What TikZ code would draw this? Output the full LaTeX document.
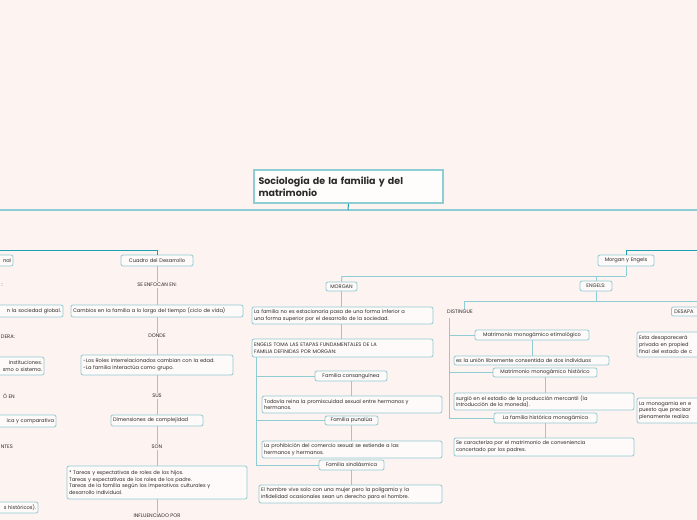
\documentclass[tikz,border=0pt]{standalone}
\usepackage{fontspec}
\setmainfont{Poppins}
\usetikzlibrary{shadows}
\definecolor{bg}{HTML}{FDF3F1}
\definecolor{ln}{HTML}{8ECDD4}
\definecolor{dk}{HTML}{1FA0B2}
\definecolor{bd}{HTML}{8FCBD3}
\definecolor{tx}{HTML}{2A2A2A}
\tikzset{
 box/.style={draw=bd,line width=0.8pt,rounded corners=2pt,fill=white!60!bg,inner sep=0pt,text=tx,font=\fontsize{5.1}{6.6}\selectfont},
 lbl/.style={text=tx,font=\fontsize{5.1}{6}\selectfont,inner sep=1pt},
 con/.style={draw=ln,line width=1pt},
 dcon/.style={draw=dk,line width=1pt},
}
\newcommand\bx[7][left]{%
 \pgfmathsetmacro\bw{#5-#3}\pgfmathsetmacro\bh{#6-#4}\pgfmathsetmacro\tw{#5-#3-4}%
 \node[box,minimum width=\bw pt,minimum height=\bh pt,text width=\tw pt,align=#1] (#2) at ({(#3+#5)/2},{(#4+#6)/2}) {#7};}
\begin{document}
\begin{tikzpicture}[x=1pt,y=-1pt]
\fill[bg] (0,0) rectangle (697,520);
\useasboundingbox (0,0) rectangle (697,520);
\clip (0,0) rectangle (697,520);
% title
\node[draw=ln,line width=1.2pt,fill=white!80!bg,minimum width=189pt,minimum height=33pt,text width=180pt,align=left,inner sep=0pt,text=tx,font=\fontsize{9.5}{12}\bfseries\selectfont,drop shadow={fill=ln,opacity=0.5,shadow xshift=1pt,shadow yshift=-1pt}] (title) at (348.5,186.5) {Sociología de la familia y del\\matrimonio};
\coordinate (mainL) at (0,210); \coordinate (mainR) at (697,210); \coordinate (mainC) at (348,210);
\draw[con,line width=1.6pt] (mainL) -- (mainR);
\draw[dcon] (title.south) -- (mainC);
% left partial column
\bx[right]{nal}{-40}{255}{13}{266}{nal}
\coordinate (lL) at (0,250); \coordinate (lC) at (157,250);
\draw[dcon] (lL) -- (lC);
\node[lbl,anchor=east] (l1) at (4,285) {:};
\bx[right]{lb1}{-60}{305}{63}{317}{n la sociedad global.}
\node[lbl,anchor=east] (l2) at (16,337) {DERA:};
\bx[right]{lb2}{-60}{357}{44}{375}{instituciones.\\smo o sistema.}
\node[lbl,anchor=east] (l3) at (16,396) {Ó EN};
\bx[right]{lb3}{-60}{415}{56}{427}{ica y comparativa}
\node[lbl,anchor=east] (l4) at (14,447) {NTES};
\bx[right]{lb4}{-60}{502}{38}{513}{s históricos).}
% Cuadro column
\bx[center]{cuadro}{121}{255}{193}{266}{Cuadro del Desarrollo}
\draw[dcon] (lC) -- (cuadro.north);
\node[lbl] (enf) at (157,285) {SE ENFOCAN EN:};
\bx{cambios}{71}{305}{243}{317}{Cambios en la familia a lo largo del tiempo (ciclo de vida)}
\node[lbl] (donde) at (157,336) {DONDE};
\bx{roles}{81}{355}{233}{375}{-Los Roles interrelacionados cambian con la edad.\\-La familia interactúa como grupo.}
\node[lbl] (sus) at (157,396) {SUS};
\bx{dim}{111}{415}{203}{426}{Dimensiones de complejidad}
\node[lbl] (son) at (157,447) {SON};
\bx{tareas}{67}{466}{247}{499}{* Tareas y expectativas de roles de los hijos.\\* Tareas y expectativas de los roles de los padre.\\* Tareas de la familia según los imperativos culturales y\\desarrollo individual.}
\node[lbl] (inf) at (157,516) {INFLUENCIADO POR};
\foreach \a/\b in {cuadro/enf,enf/cambios,cambios/donde,donde/roles,roles/sus,sus/dim,dim/son,son/tareas,tareas/inf}
 \draw[con] (\a.south) -- (\a.south |- \b.north);
% right top
\bx[center]{me}{598}{255}{654}{266}{Morgan y Engels}
\coordinate (rC) at (626,250); \coordinate (rR) at (697,250);
\draw[dcon] (rR) -- (rC) -- (me.north);
\coordinate (jm) at (626,276); \coordinate (jl) at (342,276); \coordinate (je) at (596,276);
\draw[con] (me.south) -- (jm); \draw[con] (jl) -- (jm);
\bx[center]{morgan}{326}{282}{357}{291}{MORGAN}
\bx[center]{engels}{580}{281}{612}{291}{ENGELS:}
\draw[con] (jl) -- (morgan.north); \draw[con] (je) -- (engels.north);
% MORGAN column
\bx{m1}{252}{307}{433}{324}{La familia no es estacionaria pasa de una forma inferior a\\una forma superior por el desarrollo de la sociedad.}
\bx{m2}{252}{339}{433}{357}{ENGELS TOMA LAS ETAPAS FUNDAMENTALES DE LA\\FAMILIA DEFINIDAS POR MORGAN:}
\draw[con] (morgan.south) -- (morgan.south |- m1.north);
\draw[con] (morgan.south |- m1.south) -- (morgan.south |- m2.north);
\bx[center]{fc}{315}{371}{387}{381}{Familia consanguínea}
\bx{fc1}{262}{396}{442}{413}{Todavía reina la promiscuidad sexual entre hermanos y\\hermanos.}
\bx[center]{fp}{325}{416}{378}{425}{Familia punalúa}
\bx{fp1}{262}{441}{442}{458}{La prohibición del comercio sexual se extiende a las\\hermanos y hermanos.}
\bx[center]{fs}{319}{460}{384}{470}{Familia sindiásmica}
\bx{fs1}{259}{485}{442}{503}{El hombre vive solo con una mujer pero la poligamia y la\\infidelidad ocasionales sean un derecho para el hombre.}
\coordinate (mv) at (256,357);
\foreach \n in {fc,fp,fs} \draw[con] (mv) |- (\n.west);
\foreach \a/\b in {fc/fc1,fp/fp1,fs/fs1} \draw[con] (\a.south) -- (\a.south |- \b.north);
% ENGELS branch
\coordinate (ej) at (596,301); \coordinate (el) at (464,301); \coordinate (er) at (697,301);
\draw[con] (engels.south) -- (ej); \draw[con] (el) -- (er);
\node[lbl,anchor=west] (dist) at (446,312) {DISTINGUE};
\draw[con] (el) -- (el |- dist.north);
\node[box,anchor=west,minimum height=9pt,minimum width=40pt,align=left,text width=34pt] (desa) at (671,311.5) {DESAPA};
\bx{d1}{637}{332}{720}{357}{Esta desaparecerá\\privada en propied\\final del estado de c}
\bx{d2}{637}{398}{720}{423}{La monogamia en e\\puesto que precisar\\plenamente realiza}
\coordinate (dv) at (449,318);
\bx[center]{me1}{475}{330}{589}{340}{Matrimonio monogámico etimológico}
\bx{me1t}{454}{356}{609}{365}{es la unión libremente consentida de dos individuos}
\bx[center]{mh}{493}{368}{597}{377}{Matrimonio monogámico histórico}
\bx{mht}{454}{393}{634}{410}{surgió en el estadio de la producción mercantil (la\\introducción de la moneda).}
\bx[center]{fh}{494}{413}{597}{423}{La familia histórica monogámica}
\bx{fht}{454}{438}{634}{456}{Se caracteriza por el matrimonio de conveniencia\\concertado por los padres.}
\foreach \n in {me1,mh,fh} \draw[con] (dv) |- (\n.west);
\foreach \a/\b in {me1/me1t,mh/mht,fh/fht} \draw[con] (\a.south) -- (\a.south |- \b.north);
\end{tikzpicture}
\end{document}
